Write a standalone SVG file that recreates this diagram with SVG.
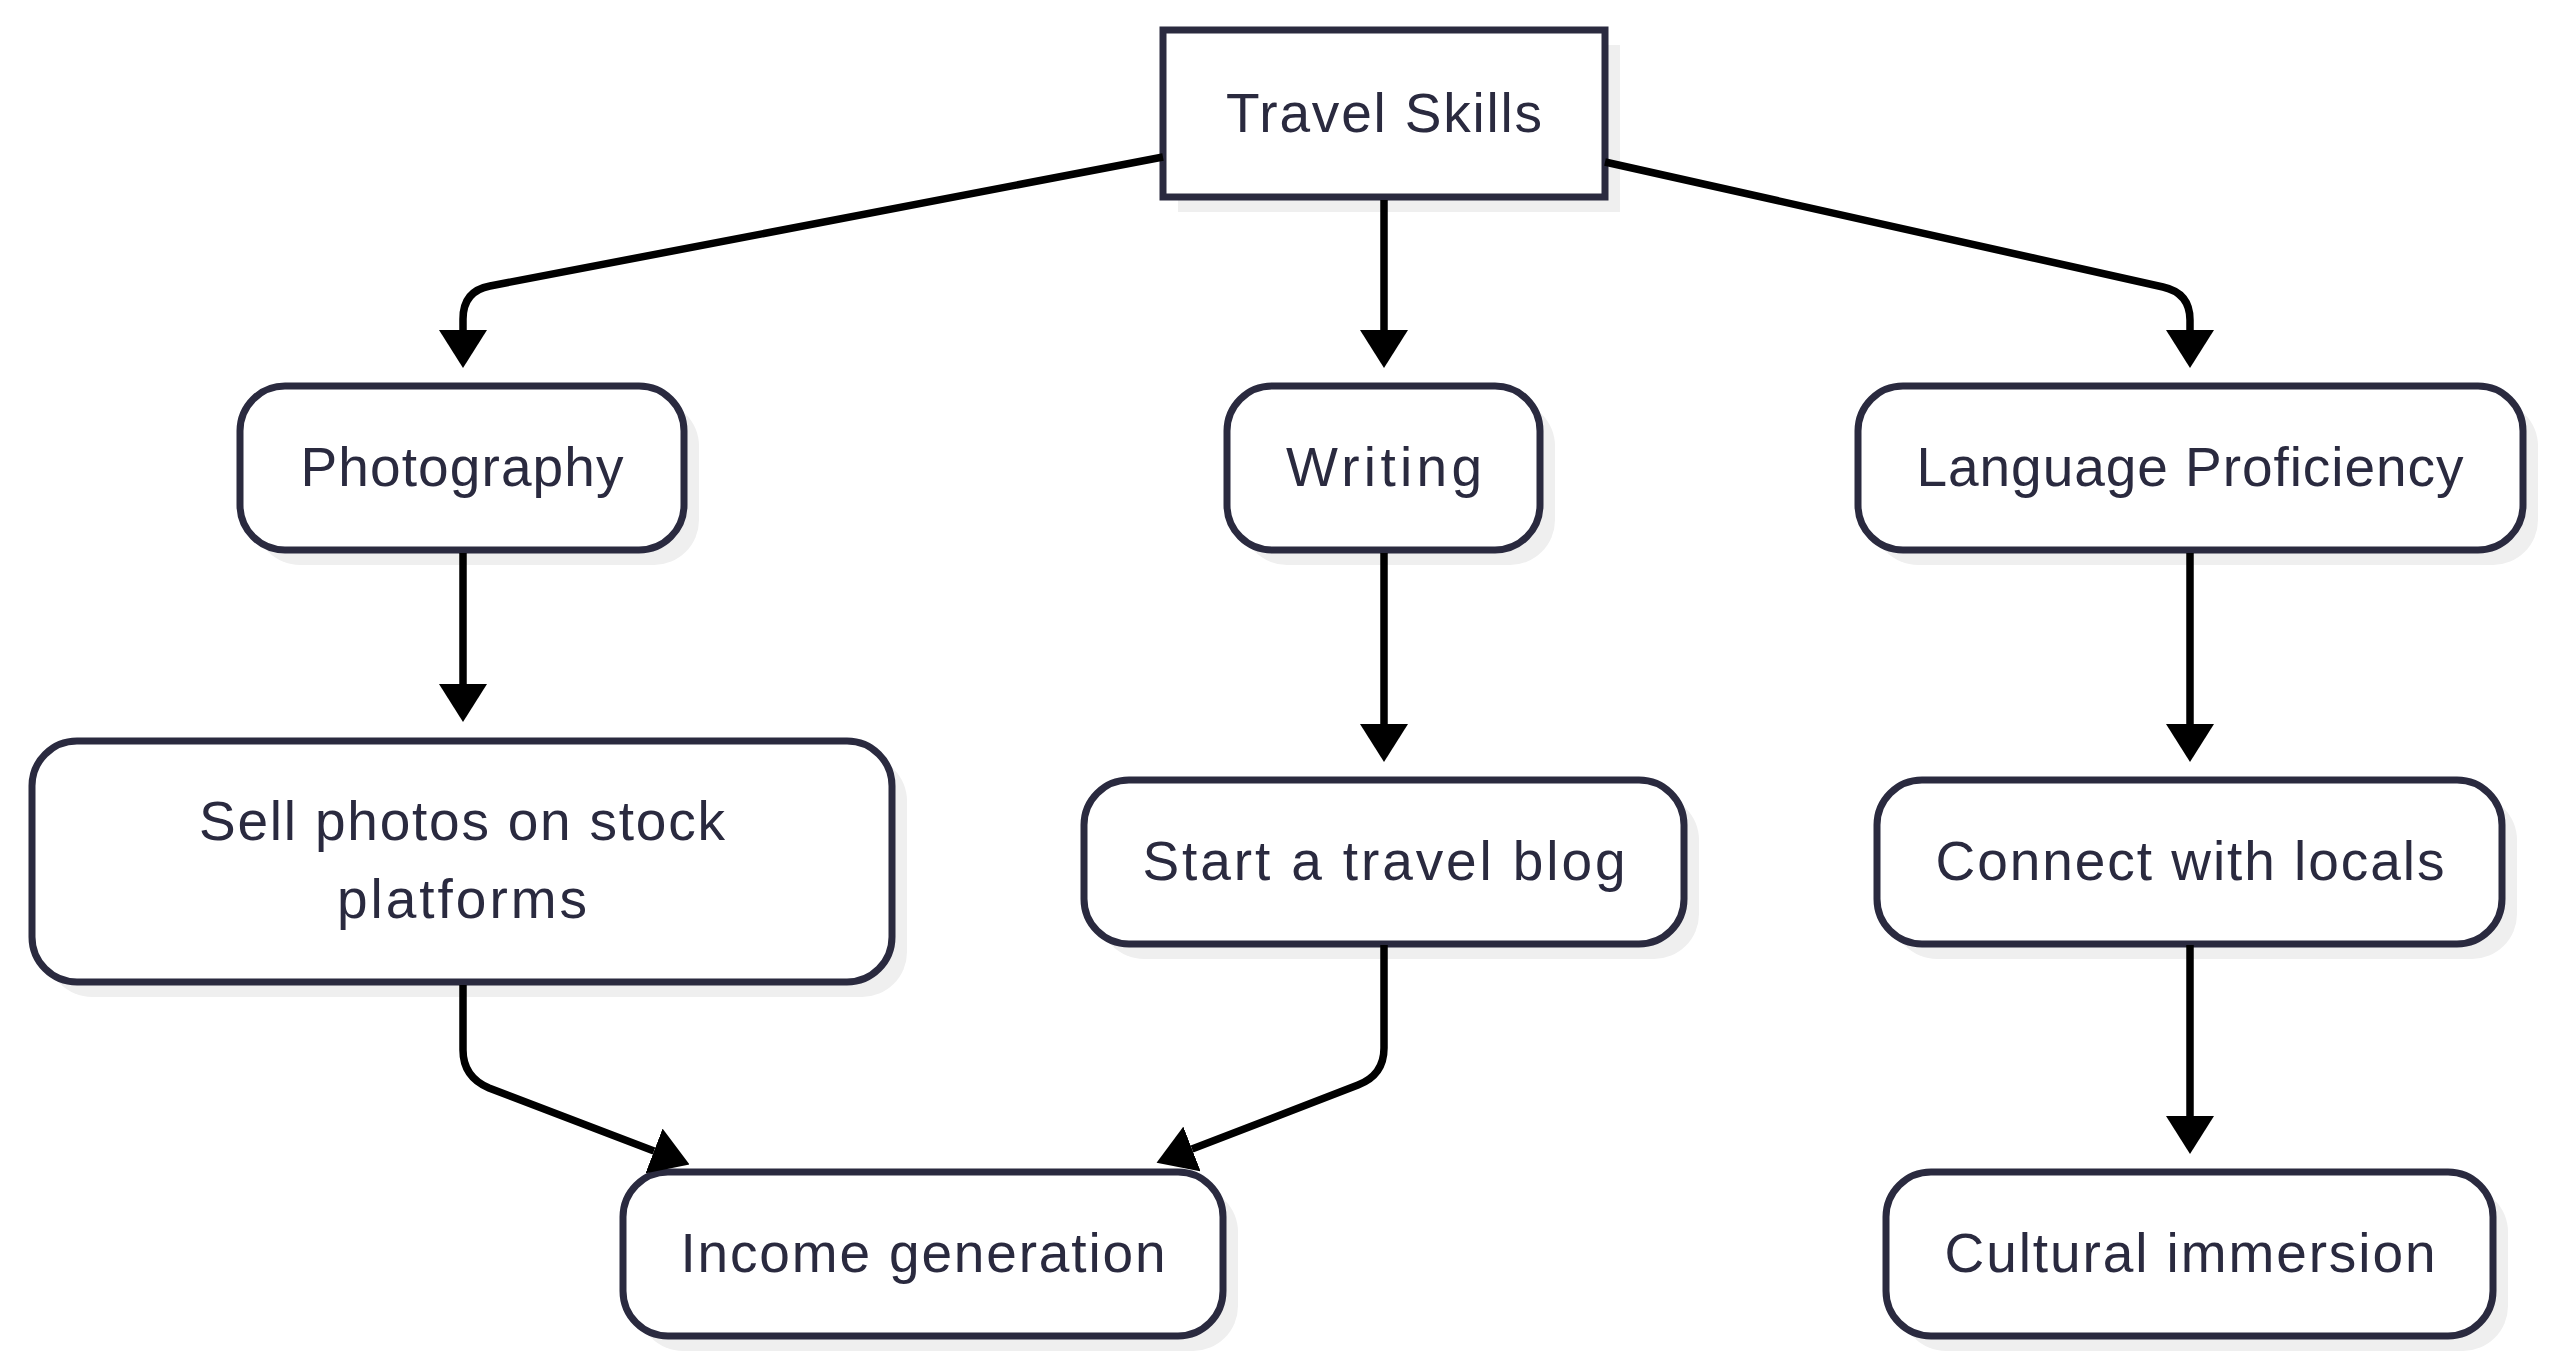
<svg xmlns="http://www.w3.org/2000/svg" width="2560" height="1371" viewBox="0 0 2560 1371">
  <style>
    .shadow { fill: #efefef; }
    .box { fill: #ffffff; stroke: #2a2a3f; stroke-width: 7; }
    .label { font-family: "Liberation Sans", Arial, sans-serif; font-size: 55px; fill: #2a2a3f; text-anchor: middle; }
    .edge { fill: none; stroke: #000000; stroke-width: 7.5; }
  </style>
  <defs>
    <marker id="arrow" viewBox="0 0 38 48" refX="0" refY="24" markerWidth="38" markerHeight="48" markerUnits="userSpaceOnUse" orient="auto">
      <path d="M0,0 L38,24 L0,48 z" fill="#000000"/>
    </marker>
  </defs>
  <rect width="2560" height="1371" fill="#ffffff"/>

  <g id="node-travel-skills">
    <rect class="shadow" x="1178" y="45" width="442" height="167"/>
    <rect class="box" x="1163" y="30" width="442" height="167"/>
    <text class="label" x="1384" y="132" textLength="316" lengthAdjust="spacing">Travel Skills</text>
  </g>
  <g id="node-photography">
    <rect class="shadow" x="255" y="401" width="444" height="164" rx="45"/>
    <rect class="box" x="240" y="386" width="444" height="164" rx="45"/>
    <text class="label" x="462" y="486" textLength="323" lengthAdjust="spacing">Photography</text>
  </g>
  <g id="node-writing">
    <rect class="shadow" x="1242" y="401" width="313" height="164" rx="45"/>
    <rect class="box" x="1227" y="386" width="313" height="164" rx="45"/>
    <text class="label" x="1384" y="486" textLength="196" lengthAdjust="spacing">Writing</text>
  </g>
  <g id="node-language">
    <rect class="shadow" x="1873" y="401" width="665" height="164" rx="45"/>
    <rect class="box" x="1858" y="386" width="665" height="164" rx="45"/>
    <text class="label" x="2190" y="486" textLength="547" lengthAdjust="spacing">Language Proficiency</text>
  </g>
  <g id="node-sell-photos">
    <rect class="shadow" x="47" y="756" width="860" height="241" rx="45"/>
    <rect class="box" x="32" y="741" width="860" height="241" rx="45"/>
    <text class="label" x="462" y="840" textLength="526" lengthAdjust="spacing">Sell photos on stock</text>
    <text class="label" x="462" y="918" textLength="250" lengthAdjust="spacing">platforms</text>
  </g>
  <g id="node-travel-blog">
    <rect class="shadow" x="1099" y="795" width="600" height="164" rx="45"/>
    <rect class="box" x="1084" y="780" width="600" height="164" rx="45"/>
    <text class="label" x="1384" y="880" textLength="483" lengthAdjust="spacing">Start a travel blog</text>
  </g>
  <g id="node-connect-locals">
    <rect class="shadow" x="1892" y="795" width="625" height="164" rx="45"/>
    <rect class="box" x="1877" y="780" width="625" height="164" rx="45"/>
    <text class="label" x="2190" y="880" textLength="509" lengthAdjust="spacing">Connect with locals</text>
  </g>
  <g id="node-income">
    <rect class="shadow" x="638" y="1187" width="600" height="164" rx="45"/>
    <rect class="box" x="623" y="1172" width="600" height="164" rx="45"/>
    <text class="label" x="923" y="1272" textLength="485" lengthAdjust="spacing">Income generation</text>
  </g>
  <g id="node-cultural">
    <rect class="shadow" x="1901" y="1187" width="607" height="164" rx="45"/>
    <rect class="box" x="1886" y="1172" width="607" height="164" rx="45"/>
    <text class="label" x="2190" y="1272" textLength="491" lengthAdjust="spacing">Cultural immersion</text>
  </g>

  <g id="connectors">
    <path class="edge" marker-end="url(#arrow)" d="M1163,157 L490,286 Q463,291 463,319 L463,330"/>
    <path class="edge" marker-end="url(#arrow)" d="M1384,200 L1384,330"/>
    <path class="edge" marker-end="url(#arrow)" d="M1605,162 L2163,287 Q2190,293 2190,320 L2190,330"/>
    <path class="edge" marker-end="url(#arrow)" d="M463,553 L463,684"/>
    <path class="edge" marker-end="url(#arrow)" d="M1384,553 L1384,724"/>
    <path class="edge" marker-end="url(#arrow)" d="M2190,553 L2190,724"/>
    <path class="edge" marker-end="url(#arrow)" d="M463,985 L463,1050 Q463,1077 489,1088 L654,1151"/>
    <path class="edge" marker-end="url(#arrow)" d="M1384,945 L1384,1048 Q1384,1075 1358,1085 L1192,1149"/>
    <path class="edge" marker-end="url(#arrow)" d="M2190,945 L2190,1116"/>
  </g>
</svg>
